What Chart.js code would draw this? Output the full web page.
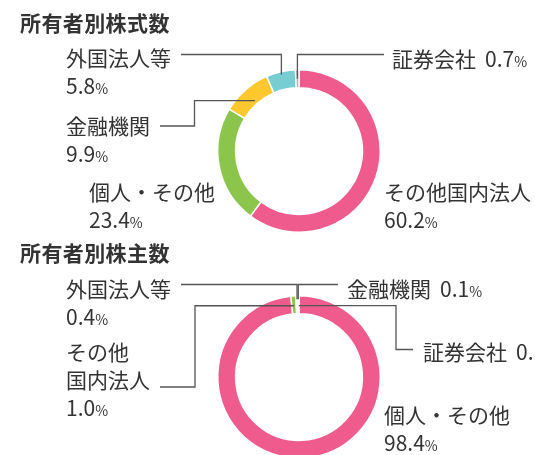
<!DOCTYPE html>
<html lang="ja">
<head>
<meta charset="utf-8">
<script src="https://cdn.jsdelivr.net/npm/chart.js@4"></script>
<style>
  html, body { margin: 0; padding: 0; background: #fff; }
  body { width: 535px; height: 455px; overflow: hidden; position: relative;
         font-family: "Noto Sans CJK JP", "Noto Sans", sans-serif; color: #333; }
  canvas { position: absolute; left: 0; }
  #sharesChart { top: 0; }
  #holdersChart { top: 230px; }
  .title { position: absolute; left: 20px; font-size: 21px; font-weight: bold; letter-spacing: 0.4px; line-height: 28px; white-space: nowrap; }
  .lbl { position: absolute; font-size: 21px; line-height: 28px; white-space: nowrap; }
  .lbl small { font-size: 14px; }
  .lbl .gap { display: inline-block; width: 9px; }
</style>
</head>
<body>
<canvas id="sharesChart"></canvas>
<canvas id="holdersChart"></canvas>
<div id="labels"></div>
<script>
// ===== DATA =====
const sharesTitle = '所有者別株式数';
const sharesLabels = ['その他国内法人', '個人・その他', '金融機関', '外国法人等', '証券会社'];
const sharesValues = [60.2, 23.4, 9.9, 5.8, 0.7];

const holdersTitle = '所有者別株主数';
const holdersLabels = ['個人・その他', 'その他国内法人', '外国法人等', '金融機関', '証券会社'];
const holdersValues = [98.4, 1.0, 0.4, 0.1, 0.1];

const sliceColors = ['#ef5b8c', '#8cc54b', '#fdc82e', '#77cdd1', '#b4b4b4'];

// ===== LAYOUT (page px) =====
// text: lines of each label; index: slice the label belongs to
const sharesText = [
    { index: 3, x: 66, y: 43, lines: ['外国法人等', 'PCT'] },
    { index: 2, x: 66, y: 111, lines: ['金融機関', 'PCT'] },
    { index: 1, x: 89, y: 177, lines: ['個人・その他', 'PCT'] },
    { index: 0, x: 384, y: 177, lines: ['その他国内法人', 'PCT'] },
    { index: 4, x: 392, y: 44, lines: ['証券会社 PCT'] },
];
const holdersText = [
    { index: 2, x: 66, y: 274, lines: ['外国法人等', 'PCT'] },
    { index: 3, x: 347, y: 274, lines: ['金融機関 PCT'] },
    { index: 1, x: 66, y: 337, lines: ['その他', '国内法人', 'PCT'] },
    { index: 4, x: 423, y: 337, lines: ['証券会社 PCT'] },
    { index: 0, x: 384, y: 400, lines: ['個人・その他', 'PCT'] },
];

// leader lines: fixed start points, last leg goes to the slice ('v' = vertical, 'h' = horizontal)
const sharesLeaders = [
    { index: 3, pts: [[181, 54.5]], mode: 'v', t: 0.85 },
    { index: 4, pts: [[384, 54.5]], mode: 'v', t: 0.5 },
    { index: 2, pts: [[160, 126], [194.5, 126]], mode: 'h', t: 0.2 },
];
const holdersLeaders = [
    { index: 2, pts: [[181, 54.5]], mode: 'v', t: 0.8 },
    { index: 3, pts: [[338, 54.5]], mode: 'v', t: 0.8 },
    { index: 1, pts: [[160, 157], [195, 157]], mode: 'h', t: 0.45 },
    { index: 4, pts: [[413, 119.5], [396, 119.5]], mode: 'h', t: 0.45 },
];

function fmtPct(v) {
    return v.toFixed(1) + '<small>%</small>';
}

function addText(title, titleTop, items, values) {
    const box = document.getElementById('labels');
    const t = document.createElement('div');
    t.className = 'title';
    t.style.top = titleTop + 'px';
    t.textContent = title;
    box.appendChild(t);
    items.forEach(it => {
        const d = document.createElement('div');
        d.className = 'lbl';
        d.style.left = it.x + 'px';
        d.style.top = it.y + 'px';
        d.innerHTML = it.lines
            .map(l => l.replace(' PCT', '<span class="gap"> </span>PCT').replace('PCT', fmtPct(values[it.index])))
            .join('<br>');
        box.appendChild(d);
    });
}

const leaderPlugin = {
    id: 'leaders',
    afterDatasetsDraw(chart, args, opts) {
        const ctx = chart.ctx;
        const arcs = chart.getDatasetMeta(0).data;
        ctx.save();
        ctx.strokeStyle = '#555';
        ctx.lineWidth = 1.3;
        opts.list.forEach(l => {
            const a = arcs[l.index];
            const mid = (a.startAngle + a.endAngle) / 2;
            const r = a.innerRadius + (a.outerRadius - a.innerRadius) * l.t;
            const ex = a.x + Math.cos(mid) * r;
            const ey = a.y + Math.sin(mid) * r;
            const last = l.pts[l.pts.length - 1];
            ctx.beginPath();
            ctx.moveTo(l.pts[0][0], l.pts[0][1]);
            l.pts.slice(1).forEach(p => ctx.lineTo(p[0], p[1]));
            if (l.mode === 'v') ctx.lineTo(ex, last[1]);
            else ctx.lineTo(last[0], ey);
            ctx.lineTo(ex, ey);
            ctx.stroke();
        });
        ctx.restore();
    }
};

function makeDoughnut(id, height, labels, values, padding, leaders) {
    const canvas = document.getElementById(id);
    canvas.width = 535;
    canvas.height = height;
    canvas.style.width = '535px';
    canvas.style.height = height + 'px';
    return new Chart(canvas.getContext('2d'), {
        type: 'doughnut',
        data: {
            labels: labels,
            datasets: [{
                data: values,
                backgroundColor: sliceColors,
                borderColor: '#fff',
                borderWidth: 1.5,
            }]
        },
        options: {
            responsive: false,
            animation: false,
            cutout: '78%',
            layout: { padding: padding },
            plugins: {
                legend: { display: false },
                tooltip: { enabled: false },
                leaders: { list: leaders }
            }
        },
        plugins: [leaderPlugin]
    });
}

// ===== CHARTS =====
makeDoughnut('sharesChart', 240, sharesLabels, sharesValues,
    { left: 217, right: 154, top: 69, bottom: 7 }, sharesLeaders);
makeDoughnut('holdersChart', 260, holdersLabels, holdersValues,
    { left: 217, right: 154, top: 65, bottom: 31 }, holdersLeaders);

addText(sharesTitle, 8, sharesText, sharesValues);
addText(holdersTitle, 238, holdersText, holdersValues);
</script>
</body>
</html>
